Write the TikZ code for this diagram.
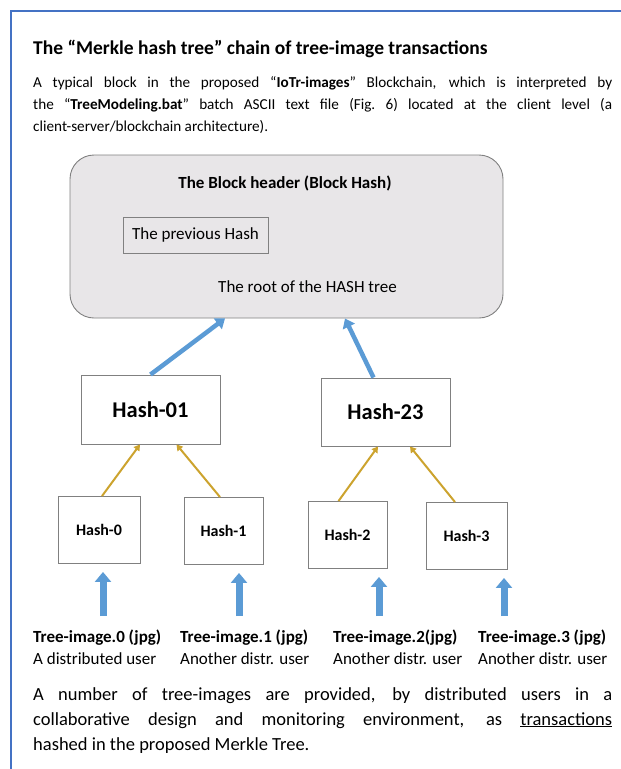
\documentclass[tikz,border=0pt]{standalone}
\usepackage{fontspec}
\setmainfont{Carlito}
\usetikzlibrary{positioning, arrows.meta, calc}

\definecolor{frameblue}{RGB}{68,114,196}
\definecolor{linkblue}{RGB}{91,155,213}
\definecolor{linkgold}{RGB}{204,163,46}
\definecolor{headgray}{RGB}{232,230,232}
\definecolor{edgegray}{RGB}{128,128,128}

% justified paragraph of the page text
\newcommand{\pagepar}[1]{\parbox[t]{579pt}{\hyphenpenalty=10000 \tolerance=9999 #1}}

\begin{document}
\begin{tikzpicture}[
    x=1pt, y=-1pt,
    every node/.style={inner sep=0pt},
    hashbox/.style={draw=edgegray, line width=0.9pt, fill=white,
        font=\bfseries\fontsize{16}{18}\selectfont},
    bighash/.style={hashbox, font=\bfseries\fontsize{22.5}{26}\selectfont},
    toplink/.style={draw=linkblue, line width=4.5pt, -{Triangle[width=13pt,length=9pt]}},
    leaflink/.style={draw=linkgold, line width=2pt, -{Triangle[width=7pt,length=6pt]}},
    feedlink/.style={draw=linkblue, line width=7pt, -{Triangle[width=16pt,length=10pt]}},
    imglabel/.style={anchor=north west, align=left, font=\fontsize{17}{22}\selectfont},
    bodytext/.style={anchor=north west}
]

    \useasboundingbox (0,0) rectangle (621,769);

    % Window frame
    \draw[frameblue, line width=1.5pt] (621,11) -| (11,769);

    % Heading and introduction
    \node[anchor=base west, font=\bfseries\fontsize{19.5}{22}\selectfont] (title) at (33,54)
        {The “Merkle hash tree” chain of tree-image transactions};
    \node[bodytext, font=\fontsize{15.2}{22}\selectfont] (intro) at (33,76)
        {\pagepar{A typical block in the proposed “\textbf{IoTr-images}” Blockchain, which is interpreted by\linebreak
         the “\textbf{TreeModeling.bat}” batch ASCII text file (Fig.~6) located at the client level (a\linebreak
         client-server/blockchain architecture).}};

    % The block header
    \node[draw=edgegray, fill=headgray, line width=0.9pt, rounded corners=24pt,
          minimum width=433pt, minimum height=163pt] (block) at (286.5,236.5) {};
    \node[font=\bfseries\fontsize{17}{19}\selectfont] (blocktitle) at (285,183) {The Block header (Block Hash)};
    \node[draw=edgegray, line width=0.9pt, minimum width=145pt, minimum height=36pt,
          font=\fontsize{17}{19}\selectfont] (prevhash) at (195.5,235) {The previous Hash};
    \node[font=\fontsize{17}{19}\selectfont] (root) at (307.5,287) {The root of the HASH tree};

    % Hash levels
    \node[bighash, minimum width=139pt, minimum height=69pt] (h01) at (150.5,409.5) {Hash-01};
    \node[bighash, minimum width=129pt, minimum height=68pt] (h23) at (385.5,412) {Hash-23};
    \foreach \i/\x/\y/\w in {0/99/530/82, 1/223.5/531/79, 2/347.5/535/79, 3/466.5/536/81} {
        \node[hashbox, minimum width=\w pt, minimum height=67pt] (h\i) at (\x,\y) {Hash-\i};
    }

    % Links up the tree
    \draw[toplink] (h01.north) -- ($(block.south)+(-61.5,0)$);
    \draw[toplink] ($(h23.north)+(-12,0)$) -- ($(block.south)+(58.5,0)$);
    \draw[leaflink] ($(h0.north)+(3,0)$) -- ($(h01.south)+(-10.5,0)$);
    \draw[leaflink] ($(h1.north)+(-3.5,0)$) -- ($(h01.south)+(26,0)$);
    \draw[leaflink] ($(h2.north)+(-9,0)$) -- ($(h23.south)+(-7.5,0)$);
    \draw[leaflink] ($(h3.north)+(-11.5,0)$) -- ($(h23.south)+(24.5,0)$);

    % Tree images from the users
    \node[imglabel] (img0) at (33,630) {\textbf{Tree-image.0 (jpg)}\\A distributed user};
    \node[imglabel] (img1) at (180,630) {\textbf{Tree-image.1 (jpg)}\\Another distr. user};
    \node[imglabel] (img2) at (333,630) {\textbf{Tree-image.2(jpg)}\\Another distr. user};
    \node[imglabel] (img3) at (478,630) {\textbf{Tree-image.3 (jpg)}\\Another distr. user};
    \foreach \i/\x in {0/103, 1/239, 2/379, 3/504} {
        \coordinate (fx\i) at (\x,0);
        \draw[feedlink, shorten <=14pt, shorten >=8pt] (img\i.north -| fx\i) -- (h\i.south -| fx\i);
    }

    % Closing remark
    \node[bodytext, font=\fontsize{18.5}{25}\selectfont] (remark) at (33,687)
        {\pagepar{A number of tree-images are provided, by distributed users in a\linebreak
         collaborative design and monitoring environment, as \underline{transactions}\linebreak
         hashed in the proposed Merkle Tree.}};

\end{tikzpicture}
\end{document}
